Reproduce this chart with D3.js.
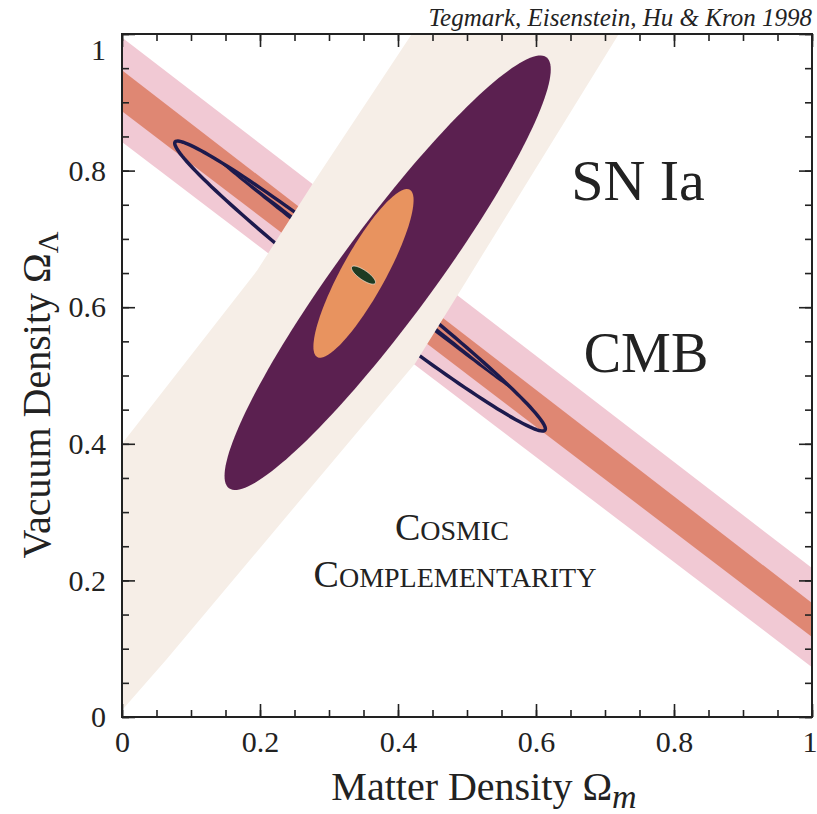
<!DOCTYPE html>
<html><head><meta charset="utf-8">
<script src="https://cdn.jsdelivr.net/npm/d3@7"></script>
<style>html,body{margin:0;padding:0;background:#fff;}svg{display:block;}</style>
</head><body>
<svg id="c" width="817" height="814"></svg>
<script>
// ---------- data (Ωm, ΩΛ) ----------
const xTickValues = [0, 0.2, 0.4, 0.6, 0.8, 1];
const yTickValues = [0, 0.2, 0.4, 0.6, 0.8, 1];
const xTickLabels = ["0", "0.2", "0.4", "0.6", "0.8", "1"];
const yTickLabels = ["0", "0.2", "0.4", "0.6", "0.8", "1"];
const minorTickValues = d3.range(0, 21).map(i => i / 20);

// CMB degeneracy band (outer, inner)
const cmbOuter = [[0, 0.995], [1, 0.218], [1, 0.073], [0, 0.842]];
const cmbInner = [[0, 0.947], [1, 0.167], [1, 0.117], [0, 0.887]];
// future CMB contours (navy): ring and needle, major-axis tips + axis ratio
const cmbRingTips = [[0.077, 0.842], [0.613, 0.420]];
const cmbRingRatio = 0.085;
const cmbNeedleTips = [[0.139, 0.815], [0.562, 0.482]];
const cmbNeedleRatio = 0.014;
// SN Ia band
const snBand = [[0, 0.40], [0.196, 0.654], [0.277, 0.782], [0.42, 1.0], [0.45, 1.05],
                [0.76, 1.05], [0.72, 1.0], [0.5, 0.64], [0.425, 0.518], [0.065, 0.085],
                [0, 0.01], [0, -0.05]];
// combined constraints
const purpleTips = [[0.155, 0.335], [0.615, 0.966]];
const purpleRatio = 0.175;
const orangeTips = [[0.283, 0.527], [0.417, 0.772]];
const orangeRatio = 0.23;
const greenTips = [[0.333, 0.659], [0.367, 0.635]];
const greenRatio = 0.33;

// ---------- layout ----------
const L = 122, R = 812, T = 34, B = 717;
const x = d3.scaleLinear().domain([0, 1]).range([L, R]);
const y = d3.scaleLinear().domain([0, 1]).range([B, T]);
const svg = d3.select("#c");
const serif = "'Liberation Serif','Times New Roman',Times,serif";

svg.append("defs").append("clipPath").attr("id", "clip")
  .append("rect").attr("x", L).attr("y", T).attr("width", R - L).attr("height", B - T);
const g = svg.append("g").attr("clip-path", "url(#clip)");

const line = d3.line().x(d => x(d[0])).y(d => y(d[1]));
const poly = pts => line(pts) + "Z";

function ellipsePts(tips, ratio, n = 160) {
  const x0 = x(tips[0][0]), y0 = y(tips[0][1]), x1 = x(tips[1][0]), y1 = y(tips[1][1]);
  const cx = (x0 + x1) / 2, cy = (y0 + y1) / 2;
  const ax = (x1 - x0) / 2, ay = (y1 - y0) / 2;
  const bx = -ay * ratio, by = ax * ratio;
  return d3.range(n).map(i => {
    const t = 2 * Math.PI * i / n;
    return [cx + Math.cos(t) * ax + Math.sin(t) * bx, cy + Math.cos(t) * ay + Math.sin(t) * by];
  });
}
const pxLine = d3.line().curve(d3.curveLinearClosed);

g.append("path").attr("d", poly(cmbOuter)).attr("fill", "#f1c9d4");
g.append("path").attr("d", poly(cmbInner)).attr("fill", "#df8773");
g.append("path").attr("d", pxLine(ellipsePts(cmbRingTips, cmbRingRatio)))
  .attr("fill", "none").attr("stroke", "#1d1a4d").attr("stroke-width", 3.5);
g.append("path").attr("d", pxLine(ellipsePts(cmbNeedleTips, cmbNeedleRatio)))
  .attr("fill", "#1d1a4d");
g.append("path").attr("d", poly(snBand)).attr("fill", "#f6eee7");
g.append("path").attr("d", pxLine(ellipsePts(purpleTips, purpleRatio))).attr("fill", "#5b2050");
g.append("path").attr("d", pxLine(ellipsePts(orangeTips, orangeRatio))).attr("fill", "#e8935f");
g.append("path").attr("d", pxLine(ellipsePts(greenTips, greenRatio)))
  .attr("fill", "#1f3b22").attr("stroke", "#f3e6d8").attr("stroke-width", 0.8);

// ---------- axes ----------
function styleAxis(sel) {
  sel.select(".domain").remove();
  sel.selectAll("line").attr("stroke", "#222").attr("stroke-width", 1.6);
  sel.selectAll("text").attr("font-family", serif).attr("font-size", 30).attr("fill", "#222");
}
const minorSize = 7, majorSize = 13;
const mk = (axisFn, vals, size, labels) => {
  const a = axisFn.tickValues(vals).tickSize(-size).tickPadding(14);
  a.tickFormat(labels ? ((d, i) => labels[i]) : "");
  return a;
};
svg.append("g").attr("transform", `translate(0,${B})`).call(mk(d3.axisBottom(x), minorTickValues, minorSize)).call(styleAxis);
const xb = svg.append("g").attr("transform", `translate(0,${B})`)
  .call(mk(d3.axisBottom(x), xTickValues, majorSize, xTickLabels)).call(styleAxis);
xb.selectAll(".tick").filter(d => d === 1).select("text").attr("text-anchor", "end").attr("x", 5);
svg.append("g").attr("transform", `translate(0,${T})`).call(mk(d3.axisTop(x), minorTickValues, minorSize)).call(styleAxis);
svg.append("g").attr("transform", `translate(0,${T})`).call(mk(d3.axisTop(x), xTickValues, majorSize)).call(styleAxis);
svg.append("g").attr("transform", `translate(${L},0)`)
  .call(mk(d3.axisLeft(y), minorTickValues, minorSize)).call(styleAxis);
const ylm = svg.append("g").attr("transform", `translate(${L},0)`)
  .call(mk(d3.axisLeft(y), yTickValues, majorSize, yTickLabels).tickPadding(16)).call(styleAxis);
ylm.selectAll(".tick").filter(d => d === 1).select("text").attr("dy", "0.85em");
svg.append("g").attr("transform", `translate(${R},0)`).call(mk(d3.axisRight(y), minorTickValues, minorSize)).call(styleAxis);
svg.append("g").attr("transform", `translate(${R},0)`).call(mk(d3.axisRight(y), yTickValues, majorSize)).call(styleAxis);

svg.append("rect").attr("x", L).attr("y", T).attr("width", R - L).attr("height", B - T)
  .attr("fill", "none").attr("stroke", "#222").attr("stroke-width", 2);

// ---------- text ----------
svg.append("text").attr("x", R).attr("y", 26).attr("text-anchor", "end")
  .attr("font-family", serif).attr("font-style", "italic").attr("font-size", 25).attr("fill", "#222")
  .text("Tegmark, Eisenstein, Hu & Kron 1998");

const xt = svg.append("text").attr("x", 484).attr("y", 800).attr("text-anchor", "middle")
  .attr("font-family", serif).attr("font-size", 40).attr("fill", "#222");
xt.append("tspan").text("Matter Density Ω");
xt.append("tspan").attr("font-style", "italic").attr("font-size", 34).attr("dy", 8).text("m");

const yt = svg.append("text").attr("transform", `translate(50,395) rotate(-90)`)
  .attr("text-anchor", "middle").attr("font-family", serif).attr("font-size", 40).attr("fill", "#222");
yt.append("tspan").text("Vacuum Density Ω");
yt.append("tspan").attr("font-size", 30).attr("dy", 8).text("Λ");

const big = (txt, cx, cy, fs) => svg.append("text").attr("x", cx).attr("y", cy).attr("text-anchor", "middle")
  .attr("font-family", serif).attr("font-size", fs).attr("fill", "#222").text(txt);
big("SN Ia", 638, 200, 58);
big("CMB", 646, 372, 56);

function smallCaps(words, cx, cy) {
  const t = svg.append("text").attr("x", cx).attr("y", cy).attr("text-anchor", "middle")
    .attr("font-family", serif).attr("font-size", 38).attr("fill", "#222");
  t.append("tspan").text(words[0]);
  t.append("tspan").attr("font-size", 28).text(words.slice(1));
}
smallCaps("COSMIC", 452, 540);
smallCaps("COMPLEMENTARITY", 455, 587);
</script>
</body></html>
